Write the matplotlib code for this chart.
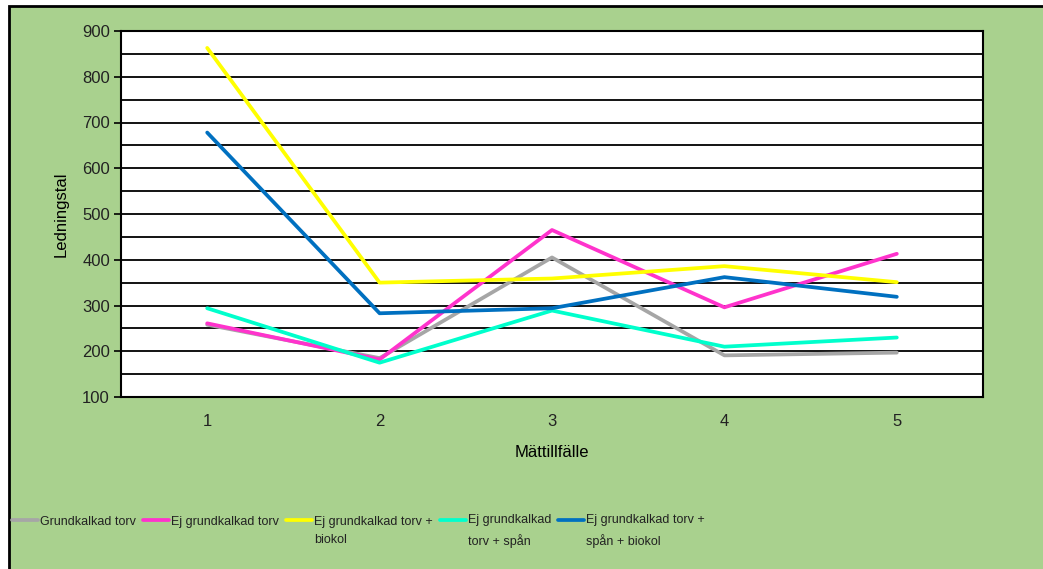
import numpy as np
import matplotlib.pyplot as plt
from matplotlib import font_manager
from matplotlib.lines import Line2D
from matplotlib.legend_handler import HandlerLine2D
from matplotlib.patches import Rectangle
from matplotlib.ticker import MultipleLocator

# Mätvärden per mättillfälle
tillfallen = [1, 2, 3, 4, 5]
grundkalkad_torv = [258, 185, 405, 191, 197]
ej_grundkalkad_torv = [261, 182, 465, 296, 413]
ej_grundkalkad_biokol = [863, 350, 359, 386, 351]
ej_grundkalkad_span = [294, 175, 289, 210, 230]
ej_grundkalkad_span_biokol = [678, 283, 294, 362, 319]

serier = [
    ("Grundkalkad torv\n ", grundkalkad_torv, "#A6A6A6"),
    ("Ej grundkalkad torv\n ", ej_grundkalkad_torv, "#FF33CC"),
    ("Ej grundkalkad torv +\nbiokol", ej_grundkalkad_biokol, "#FFFF00"),
    ("Ej grundkalkad\ntorv + spån", ej_grundkalkad_span, "#00FFCC"),
    ("Ej grundkalkad torv +\nspån + biokol", ej_grundkalkad_span_biokol, "#0070C0"),
]

LEG_SIZE = 9
LEG_LINESPACING = 1.75


def smal_font():
    # smalare typsnitt till förklaringen om något sådant finns
    for namn in ["Liberation Sans Narrow", "DejaVu Sans Condensed"]:
        try:
            font_manager.findfont(namn, fallback_to_default=False)
            return namn
        except ValueError:
            pass
    return "Liberation Sans"


class ForsteRadHandler(HandlerLine2D):
    # lägger linjen i höjd med första textraden
    def create_artists(self, *args, **kwargs):
        artists = super().create_artists(*args, **kwargs)
        dy = LEG_SIZE * LEG_LINESPACING / 2
        for a in artists:
            a.set_ydata(np.asarray(a.get_ydata()) + dy)
        return artists


plt.rcParams['font.family'] = ['Liberation Sans', 'DejaVu Sans']

fig = plt.figure(figsize=(10.43, 5.69), dpi=100)
fig.patch.set_facecolor("white")

# grön bakgrundsram
bg = Rectangle((9 / 1043, -0.05), 1.05, 1.05 - 6 / 569,
               transform=fig.transFigure, facecolor="#A9D18E",
               edgecolor="black", linewidth=2, zorder=-10)
fig.patches.append(bg)

ax = fig.add_axes([121 / 1043, 1 - 397 / 569, (983 - 121) / 1043, (397 - 31) / 569])
ax.set_facecolor("white")

for namn, varden, farg in serier:
    ax.plot(tillfallen, varden, color=farg, linewidth=2.7, label=namn,
            solid_capstyle="round", zorder=3)

ax.set_xlim(0.5, 5.5)
ax.set_ylim(100, 900)
ax.yaxis.set_major_locator(MultipleLocator(100))
ax.yaxis.set_minor_locator(MultipleLocator(50))
ax.set_xticks(tillfallen)
ax.grid(axis="y", which="both", color="black", linewidth=1.3, zorder=1)
ax.set_axisbelow(True)

for s in ax.spines.values():
    s.set_color("black")
    s.set_linewidth(1.5)

ax.tick_params(axis="y", which="major", length=5, width=1.2, labelsize=12,
               colors="black", labelcolor="#222222", pad=3)
ax.tick_params(axis="y", which="minor", length=0)
ax.tick_params(axis="x", length=0, labelsize=12, labelcolor="#222222", pad=12)

ax.set_ylabel("Ledningstal", fontsize=12, color="black", labelpad=10)
ax.set_xlabel("Mättillfälle", fontsize=12, color="black", labelpad=12)

leg = fig.legend(loc="upper left", bbox_to_anchor=(12 / 1043, 1 - 514 / 569),
                 ncol=5, frameon=False, handlelength=2.1, handletextpad=0.15,
                 columnspacing=0.55, borderpad=0, borderaxespad=0,
                 handler_map={Line2D: ForsteRadHandler()},
                 prop={"family": [smal_font(), "Liberation Sans"], "size": LEG_SIZE})
for t in leg.get_texts():
    t.set_linespacing(LEG_LINESPACING)
    t.set_color("#222222")

fig.savefig("out.png", dpi=100)
